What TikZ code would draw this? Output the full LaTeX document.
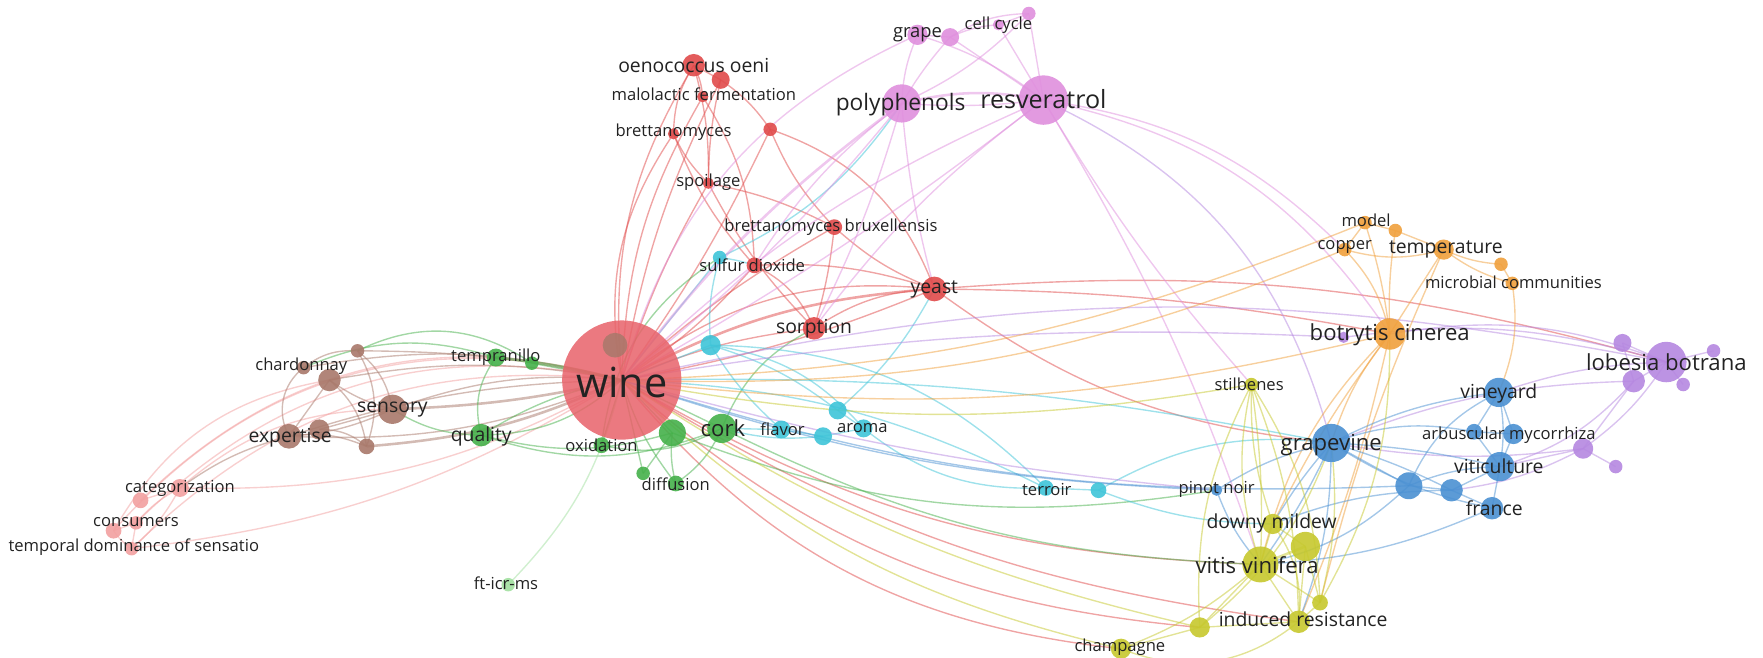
\documentclass[tikz,border=0pt]{standalone}
\usepackage{fontspec}
\setmainfont{Open Sans}
\usepackage{tikz}

\definecolor{cred}{HTML}{E04A4A}
\definecolor{cwine}{HTML}{E8626A}
\definecolor{cgreen}{HTML}{45B04A}
\definecolor{cblue}{HTML}{4A90D2}
\definecolor{cyell}{HTML}{C6C82E}
\definecolor{cpurp}{HTML}{B587E0}
\definecolor{ccyan}{HTML}{3EC4D8}
\definecolor{corng}{HTML}{F0A03C}
\definecolor{cbrown}{HTML}{A8786A}
\definecolor{cpink}{HTML}{DF8FDD}
\definecolor{csalm}{HTML}{F2A0A0}
\definecolor{clgreen}{HTML}{A2E0A0}
\definecolor{ctext}{HTML}{222222}

\tikzset{
  edge/.style={line width=0.7pt, draw opacity=0.5},
  wide/.style={line width=1.3pt},
  ered/.style={edge, draw=cred},
  esalm/.style={edge, draw=csalm},
  ebrown/.style={edge, draw=cbrown},
  egreen/.style={edge, draw=cgreen},
  elgreen/.style={edge, draw=clgreen},
  ecyan/.style={edge, draw=ccyan},
  epink/.style={edge, draw=cpink},
  epurp/.style={edge, draw=cpurp},
  eorng/.style={edge, draw=corng},
  eblue/.style={edge, draw=cblue},
  eyell/.style={edge, draw=cyell},
  lab/.style={text=ctext, inner sep=0pt, font=\fontsize{8.4}{10}\selectfont},
  labm/.style={lab, font=\fontsize{9.8}{11}\selectfont},
  labb/.style={lab, font=\fontsize{11.2}{13}\selectfont},
}

\begin{document}
\begin{tikzpicture}[x=0.02cm, y=-0.02cm]
    \useasboundingbox (0,0) rectangle (1568,585);
    % keyword positions
    \coordinate (wine) at (553,338);
    \coordinate (wineb) at (547,307);
    \coordinate (oeni) at (617,58);
    \coordinate (oenib) at (641,71);
    \coordinate (malo) at (625,86);
    \coordinate (redq) at (685,115);
    \coordinate (brett) at (599,119);
    \coordinate (spoil) at (630,163);
    \coordinate (brux) at (742,202);
    \coordinate (sulfur) at (671,236);
    \coordinate (yeast) at (831,257);
    \coordinate (sorp) at (724,292);
    \coordinate (grape) at (816,31);
    \coordinate (grapeb) at (845,33);
    \coordinate (cellc) at (888,22);
    \coordinate (cellb) at (915,12);
    \coordinate (poly) at (802,92);
    \coordinate (resv) at (928,89);
    \coordinate (cyanA) at (640,229);
    \coordinate (cyanB) at (632,307);
    \coordinate (flavor) at (695,382);
    \coordinate (cyanC) at (732,388);
    \coordinate (cyanD) at (745,365);
    \coordinate (aroma) at (768,381);
    \coordinate (terroir) at (930,434);
    \coordinate (cyanE) at (977,436);
    \coordinate (tempr) at (441,318);
    \coordinate (temprb) at (473,323);
    \coordinate (quality) at (428,387);
    \coordinate (cork) at (642,381);
    \coordinate (greenB) at (598,385);
    \coordinate (oxid) at (535,396);
    \coordinate (diffa) at (572,421);
    \coordinate (diff) at (601,430);
    \coordinate (fticr) at (452,520);
    \coordinate (chard) at (270,327);
    \coordinate (brownA) at (293,338);
    \coordinate (brownB) at (318,312);
    \coordinate (sensory) at (349,364);
    \coordinate (expert) at (257,388);
    \coordinate (brownC) at (284,382);
    \coordinate (brownD) at (326,397);
    \coordinate (categ) at (160,434);
    \coordinate (salmA) at (125,445);
    \coordinate (consum) at (121,465);
    \coordinate (salmB) at (101,472);
    \coordinate (tds) at (117,488);
    \coordinate (model) at (1214,198);
    \coordinate (orngA) at (1241,205);
    \coordinate (copper) at (1196,222);
    \coordinate (temp) at (1284,222);
    \coordinate (orngB) at (1335,235);
    \coordinate (micro) at (1345,252);
    \coordinate (botry) at (1236,297);
    \coordinate (purpS) at (1195,300);
    \coordinate (lobes) at (1482,322);
    \coordinate (purpA) at (1443,305);
    \coordinate (purpB) at (1524,312);
    \coordinate (purpC) at (1453,339);
    \coordinate (purpD) at (1497,342);
    \coordinate (purpE) at (1408,399);
    \coordinate (purpF) at (1437,415);
    \coordinate (grapev) at (1184,394);
    \coordinate (vineyd) at (1333,349);
    \coordinate (arbA) at (1311,384);
    \coordinate (arbB) at (1346,386);
    \coordinate (vitic) at (1334,415);
    \coordinate (blueA) at (1253,432);
    \coordinate (blueB) at (1291,436);
    \coordinate (france) at (1327,452);
    \coordinate (pinot) at (1082,436);
    \coordinate (stilb) at (1113,342);
    \coordinate (downy) at (1132,466);
    \coordinate (yellB) at (1161,486);
    \coordinate (vitis) at (1121,502);
    \coordinate (yellC) at (1174,536);
    \coordinate (induc) at (1155,553);
    \coordinate (yellD) at (1067,558);
    \coordinate (champ) at (997,577);

    % links
    \draw[ered] (wine) to[bend left=18] (oeni);
    \draw[ered] (wine) to[bend left=8] (oenib);
    \draw[ered] (wine) to[bend left=14] (malo);
    \draw[ered] (wine) to[bend left=22] (brett);
    \draw[ered] (wine) to[bend left=6] (spoil);
    \draw[ered] (wine) to[bend right=5] (redq);
    \draw[ered] (wine) to[bend left=6] (brux);
    \draw[ered] (wine) to[bend right=8] (sulfur);
    \draw[ered, wide] (wine) to[bend left=12] (yeast);
    \draw[ered] (wine) to[bend left=22] (yeast);
    \draw[ered] (wine) to[bend right=6] (yeast);
    \draw[ered] (wine) to[bend left=8] (sorp);
    \draw[ered] (oeni) to[bend left=10] (malo);
    \draw[ered] (oeni) -- (oenib);
    \draw[ered] (oeni) to[bend right=15] (brett);
    \draw[ered] (oeni) to[bend left=8] (spoil);
    \draw[ered] (oenib) to[bend left=10] (redq);
    \draw[ered] (oenib) to[bend right=6] (spoil);
    \draw[ered] (malo) to[bend left=15] (sulfur);
    \draw[ered] (brett) to[bend right=10] (spoil);
    \draw[ered] (brett) to[bend right=10] (sulfur);
    \draw[ered] (spoil) to[bend left=8] (brux);
    \draw[ered] (spoil) to[bend right=8] (sorp);
    \draw[ered] (redq) to[bend left=25] (yeast);
    \draw[ered] (redq) to[bend right=10] (brux);
    \draw[ered] (brux) to[bend right=10] (yeast);
    \draw[ered] (brux) to[bend left=5] (sorp);
    \draw[ered] (sulfur) to[bend left=20] (sorp);
    \draw[ered] (sulfur) to[bend left=10] (yeast);
    \draw[ered] (sorp) to[bend left=15] (yeast);
    \draw[ered] (yeast) to[bend left=10] (lobes);
    \draw[ered] (yeast) to[bend left=5] (botry);
    \draw[ered] (yeast) to[bend right=15] (grapev);
    \draw[ered] (wine) to[bend right=22] (champ);
    \draw[ered] (wine) to[bend right=18] (yellD);
    \draw[ered] (wine) to[bend right=14] (vitis);
    \draw[ered] (wine) to[bend right=12] (induc);
    \draw[esalm] (categ) to[bend right=15] (wine);
    \draw[esalm] (salmA) to[bend left=30] (wine);
    \draw[esalm] (salmB) to[bend left=32] (wine);
    \draw[esalm] (consum) to[bend left=28] (wine);
    \draw[esalm] (tds) to[bend right=12] (wine);
    \draw[esalm] (tds) to[bend left=25] (wine);
    \draw[esalm] (categ) to[bend left=20] (sensory);
    \draw[esalm] (salmB) to[bend left=25] (brownA);
    \draw[esalm] (salmA) -- (categ);
    \draw[esalm] (salmB) -- (consum);
    \draw[esalm] (tds) -- (consum);
    \draw[esalm] (salmB) to[bend right=10] (tds);
    \draw[esalm] (consum) to[bend left=10] (categ);
    \draw[esalm] (tds) to[bend right=10] (categ);
    \draw[ebrown, wide] (sensory) to[bend right=5] (wine);
    \draw[ebrown] (sensory) to[bend left=12] (wine);
    \draw[ebrown] (expert) to[bend left=8] (wine);
    \draw[ebrown] (expert) to[bend right=12] (wine);
    \draw[ebrown] (brownA) to[bend left=10] (wine);
    \draw[ebrown] (chard) to[bend left=12] (wine);
    \draw[ebrown] (brownB) to[bend left=6] (wine);
    \draw[ebrown, wide] (brownD) to[bend right=10] (wine);
    \draw[ebrown] (expert) to[bend right=10] (sensory);
    \draw[ebrown] (chard) to[bend right=40] (expert);
    \draw[ebrown] (brownA) -- (expert);
    \draw[ebrown] (brownA) to[bend right=10] (sensory);
    \draw[ebrown] (brownB) to[bend left=20] (sensory);
    \draw[ebrown] (brownC) -- (sensory);
    \draw[ebrown] (brownC) to[bend left=20] (brownD);
    \draw[ebrown] (brownA) to[bend left=20] (brownD);
    \draw[ebrown] (chard) to[bend left=20] (brownB);
    \draw[ebrown] (brownB) to[bend left=25] (brownD);
    \draw[ebrown] (expert) to[bend left=15] (brownD);
    \draw[ebrown] (expert) to[bend right=10] (categ);
    \draw[egreen, wide] (tempr) to[bend left=4] (wine);
    \draw[egreen] (temprb) -- (wine);
    \draw[egreen] (tempr) to[bend right=25] (quality);
    \draw[egreen] (tempr) to[bend right=20] (chard);
    \draw[egreen] (temprb) to[bend right=30] (brownB);
    \draw[egreen] (quality) to[bend left=10] (wine);
    \draw[egreen] (quality) to[bend right=20] (cork);
    \draw[egreen] (quality) to[bend right=15] (greenB);
    \draw[egreen] (quality) to[bend left=15] (sensory);
    \draw[egreen] (quality) to[bend right=20] (wine);
    \draw[egreen] (cork) -- (wine);
    \draw[egreen] (greenB) -- (wine);
    \draw[egreen] (cork) to[bend left=20] (oxid);
    \draw[egreen] (cork) to[bend left=15] (diff);
    \draw[egreen] (greenB) to[bend right=10] (diff);
    \draw[egreen] (greenB) -- (diffa);
    \draw[egreen] (oxid) -- (wine);
    \draw[egreen] (diffa) -- (wine);
    \draw[egreen] (diff) to[bend left=10] (wine);
    \draw[egreen] (cork) to[bend left=20] (sorp);
    \draw[egreen] (greenB) to[bend right=15] (pinot);
    \draw[egreen] (cork) to[bend right=12] (vitis);
    \draw[egreen] (oxid) to[bend left=25] (cyanA);
    \draw[elgreen] (fticr) to[bend right=15] (wine);
    \draw[ecyan] (cyanB) -- (wine);
    \draw[ecyan] (cyanA) -- (wine);
    \draw[ecyan] (cyanA) to[bend right=10] (cyanB);
    \draw[ecyan] (cyanA) to[bend right=15] (poly);
    \draw[ecyan] (cyanA) to[bend left=5] (sulfur);
    \draw[ecyan] (cyanB) to[bend right=8] (flavor);
    \draw[ecyan] (cyanB) to[bend left=10] (cyanD);
    \draw[ecyan] (cyanB) to[bend left=20] (aroma);
    \draw[ecyan] (cyanB) to[bend left=22] (terroir);
    \draw[ecyan] (flavor) -- (cyanC);
    \draw[ecyan] (cyanC) -- (aroma);
    \draw[ecyan] (cyanD) -- (aroma);
    \draw[ecyan] (flavor) -- (cork);
    \draw[ecyan] (cyanC) to[bend left=10] (cork);
    \draw[ecyan] (cyanD) to[bend right=10] (yeast);
    \draw[ecyan] (terroir) -- (cyanE);
    \draw[ecyan] (cyanE) to[bend left=18] (grapev);
    \draw[ecyan] (cyanE) to[bend right=10] (downy);
    \draw[ecyan] (wine) to[bend left=12] (terroir);
    \draw[ecyan] (wine) to[bend left=6] (grapev);
    \draw[ecyan] (aroma) to[bend right=20] (terroir);
    \draw[epink, wide] (poly) to[bend right=8] (wine);
    \draw[epink] (poly) to[bend left=6] (wine);
    \draw[epink] (resv) to[bend right=10] (wine);
    \draw[epink] (resv) to[bend left=4] (wine);
    \draw[epink] (grape) to[bend right=25] (wine);
    \draw[epink] (grape) -- (grapeb);
    \draw[epink] (grape) to[bend right=10] (poly);
    \draw[epink] (grape) to[bend left=10] (resv);
    \draw[epink] (grapeb) to[bend right=5] (poly);
    \draw[epink] (grapeb) -- (resv);
    \draw[epink] (grapeb) to[bend left=10] (cellc);
    \draw[epink] (grapeb) to[bend left=15] (cellb);
    \draw[epink] (cellc) -- (resv);
    \draw[epink] (cellb) -- (resv);
    \draw[epink] (cellb) to[bend left=10] (poly);
    \draw[epink] (cellc) -- (cellb);
    \draw[epink, wide] (poly) to[bend left=12] (resv);
    \draw[epink] (poly) to[bend right=5] (resv);
    \draw[epink] (poly) to[bend right=10] (sulfur);
    \draw[epink] (poly) to[bend right=5] (yeast);
    \draw[epink] (poly) to[bend left=5] (sorp);
    \draw[epurp] (resv) to[bend left=25] (grapev);
    \draw[epink] (resv) to[bend left=22] (botry);
    \draw[epink] (resv) to[bend left=18] (copper);
    \draw[epink] (resv) to[bend left=6] (vitis);
    \draw[epink] (resv) to[bend right=5] (stilb);
    \draw[epink] (resv) to[bend right=8] (sorp);
    \draw[epurp] (wine) to[bend left=12] (lobes);
    \draw[epurp] (wine) to[bend left=6] (purpS);
    \draw[epurp] (wine) to[bend right=5] (pinot);
    \draw[epurp] (lobes) -- (purpA);
    \draw[epurp] (lobes) -- (purpB);
    \draw[epurp] (lobes) -- (purpC);
    \draw[epurp] (lobes) -- (purpD);
    \draw[epurp] (botry) to[bend left=15] (lobes);
    \draw[epurp] (purpS) to[bend left=12] (lobes);
    \draw[epurp] (lobes) to[bend right=8] (vineyd);
    \draw[epurp] (purpC) to[bend right=10] (grapev);
    \draw[epurp] (purpE) -- (vitic);
    \draw[epurp] (purpE) to[bend left=8] (grapev);
    \draw[epurp] (purpC) -- (purpE);
    \draw[epurp] (purpE) -- (purpF);
    \draw[epurp] (purpA) -- (purpC);
    \draw[epurp] (lobes) to[bend left=10] (purpE);
    \draw[epurp] (purpC) to[bend left=15] (vitic);
    \draw[epurp] (purpE) to[bend left=10] (blueB);
    \draw[eorng] (botry) to[bend right=15] (copper);
    \draw[eorng] (botry) to[bend right=5] (model);
    \draw[eorng] (botry) to[bend left=5] (orngA);
    \draw[eorng] (botry) -- (temp);
    \draw[eorng] (copper) -- (model);
    \draw[eorng] (model) -- (orngA);
    \draw[eorng] (copper) to[bend right=15] (temp);
    \draw[eorng] (orngA) -- (temp);
    \draw[eorng] (temp) to[bend right=10] (orngB);
    \draw[eorng] (orngB) -- (micro);
    \draw[eorng] (temp) to[bend right=10] (micro);
    \draw[eorng] (micro) to[bend left=15] (vineyd);
    \draw[eorng] (temp) to[bend right=5] (yellC);
    \draw[eorng] (botry) to[bend right=10] (grapev);
    \draw[eorng] (botry) to[bend right=15] (vitis);
    \draw[eorng] (botry) to[bend left=5] (induc);
    \draw[eorng] (botry) to[bend right=5] (downy);
    \draw[eorng] (copper) to[bend left=12] (wine);
    \draw[eorng] (model) to[bend left=10] (wine);
    \draw[eorng] (botry) to[bend left=10] (wine);
    \draw[eblue] (grapev) to[bend left=10] (vineyd);
    \draw[eblue] (grapev) to[bend left=5] (vitic);
    \draw[eblue] (grapev) to[bend left=15] (arbA);
    \draw[eblue] (grapev) -- (blueA);
    \draw[eblue] (grapev) to[bend left=5] (blueB);
    \draw[eblue] (grapev) to[bend right=10] (france);
    \draw[eblue] (vineyd) -- (arbA);
    \draw[eblue] (vineyd) -- (arbB);
    \draw[eblue] (vineyd) to[bend left=10] (vitic);
    \draw[eblue] (arbB) -- (vitic);
    \draw[eblue] (arbA) -- (vitic);
    \draw[eblue] (arbA) -- (arbB);
    \draw[eblue] (vitic) -- (blueB);
    \draw[eblue] (blueA) -- (blueB);
    \draw[eblue] (blueB) -- (france);
    \draw[eblue] (vitic) -- (france);
    \draw[eblue] (blueA) to[bend left=10] (vitic);
    \draw[eblue] (blueA) to[bend left=20] (vineyd);
    \draw[eblue] (grapev) to[bend right=10] (pinot);
    \draw[eblue] (grapev) to[bend right=5] (downy);
    \draw[eblue] (grapev) to[bend left=5] (vitis);
    \draw[eblue] (grapev) to[bend left=10] (induc);
    \draw[eblue] (blueA) to[bend left=15] (vitis);
    \draw[eblue] (blueB) to[bend right=10] (downy);
    \draw[eblue] (france) to[bend left=10] (vitis);
    \draw[eblue] (pinot) to[bend right=10] (vitis);
    \draw[eblue] (pinot) to[bend left=8] (wine);
    \draw[eblue] (blueA) to[bend left=10] (wine);
    \draw[eyell] (vitis) -- (downy);
    \draw[eyell, wide] (vitis) -- (yellB);
    \draw[eyell] (vitis) -- (yellC);
    \draw[eyell] (vitis) -- (induc);
    \draw[eyell] (vitis) -- (yellD);
    \draw[eyell] (vitis) to[bend left=10] (champ);
    \draw[eyell] (vitis) to[bend left=15] (stilb);
    \draw[eyell] (downy) -- (yellB);
    \draw[eyell] (yellB) -- (induc);
    \draw[eyell] (yellB) -- (yellC);
    \draw[eyell] (yellC) -- (induc);
    \draw[eyell] (yellD) -- (induc);
    \draw[eyell] (yellD) -- (champ);
    \draw[eyell] (stilb) to[bend right=10] (downy);
    \draw[eyell] (stilb) to[bend left=10] (induc);
    \draw[eyell] (stilb) to[bend left=15] (yellC);
    \draw[eyell] (stilb) to[bend right=15] (yellD);
    \draw[eyell] (stilb) to[bend left=5] (vitis);
    \draw[eyell] (yellD) to[bend right=15] (grapev);
    \draw[eyell] (yellC) to[bend right=10] (grapev);
    \draw[eyell] (induc) to[bend right=20] (downy);
    \draw[eyell] (champ) to[bend left=15] (wine);
    \draw[eyell] (yellD) to[bend left=10] (wine);
    \draw[eyell] (stilb) to[bend left=10] (wine);
    \draw[eyell] (champ) to[bend right=30] (induc);
    \draw[eyell] (yellC) to[bend right=15] (botry);

    % circles
    \fill[cwine, fill opacity=0.85] (wine) circle (53);
    \fill[cbrown, fill opacity=0.85] (wineb) circle (11);
    \fill[cred, fill opacity=0.9] (oeni) circle (10);
    \fill[cred, fill opacity=0.9] (oenib) circle (8);
    \fill[cred, fill opacity=0.9] (malo) circle (5);
    \fill[cred, fill opacity=0.9] (redq) circle (6);
    \fill[cred, fill opacity=0.9] (brett) circle (5);
    \fill[cred, fill opacity=0.9] (spoil) circle (5);
    \fill[cred, fill opacity=0.9] (brux) circle (7);
    \fill[cred, fill opacity=0.9] (sulfur) circle (7);
    \fill[cred, fill opacity=0.9] (yeast) circle (11);
    \fill[cred, fill opacity=0.9] (sorp) circle (10);
    \fill[cpink, fill opacity=0.9] (grape) circle (9);
    \fill[cpink, fill opacity=0.9] (grapeb) circle (8);
    \fill[cpink, fill opacity=0.9] (cellc) circle (5);
    \fill[cpink, fill opacity=0.9] (cellb) circle (6);
    \fill[cpink, fill opacity=0.9] (poly) circle (17);
    \fill[cpink, fill opacity=0.9] (resv) circle (22);
    \fill[ccyan, fill opacity=0.9] (cyanA) circle (6);
    \fill[ccyan, fill opacity=0.9] (cyanB) circle (9);
    \fill[ccyan, fill opacity=0.9] (flavor) circle (8);
    \fill[ccyan, fill opacity=0.9] (cyanC) circle (8);
    \fill[ccyan, fill opacity=0.9] (cyanD) circle (8);
    \fill[ccyan, fill opacity=0.9] (aroma) circle (8);
    \fill[ccyan, fill opacity=0.9] (terroir) circle (7);
    \fill[ccyan, fill opacity=0.9] (cyanE) circle (7);
    \fill[cgreen, fill opacity=0.9] (tempr) circle (8);
    \fill[cgreen, fill opacity=0.9] (temprb) circle (6);
    \fill[cgreen, fill opacity=0.9] (quality) circle (10);
    \fill[cgreen, fill opacity=0.9] (cork) circle (13);
    \fill[cgreen, fill opacity=0.9] (greenB) circle (12);
    \fill[cgreen, fill opacity=0.9] (oxid) circle (7);
    \fill[cgreen, fill opacity=0.9] (diffa) circle (6);
    \fill[cgreen, fill opacity=0.9] (diff) circle (7);
    \fill[clgreen, fill opacity=0.9] (fticr) circle (6);
    \fill[cbrown, fill opacity=0.9] (chard) circle (6);
    \fill[cbrown, fill opacity=0.9] (brownA) circle (10);
    \fill[cbrown, fill opacity=0.9] (brownB) circle (6);
    \fill[cbrown, fill opacity=0.9] (sensory) circle (13);
    \fill[cbrown, fill opacity=0.9] (expert) circle (11);
    \fill[cbrown, fill opacity=0.9] (brownC) circle (9);
    \fill[cbrown, fill opacity=0.9] (brownD) circle (7);
    \fill[csalm, fill opacity=0.9] (categ) circle (8);
    \fill[csalm, fill opacity=0.9] (salmA) circle (7);
    \fill[csalm, fill opacity=0.9] (consum) circle (6);
    \fill[csalm, fill opacity=0.9] (salmB) circle (7);
    \fill[csalm, fill opacity=0.9] (tds) circle (6);
    \fill[corng, fill opacity=0.9] (model) circle (6);
    \fill[corng, fill opacity=0.9] (orngA) circle (6);
    \fill[corng, fill opacity=0.9] (copper) circle (6);
    \fill[corng, fill opacity=0.9] (temp) circle (9);
    \fill[corng, fill opacity=0.9] (orngB) circle (6);
    \fill[corng, fill opacity=0.9] (micro) circle (6);
    \fill[corng, fill opacity=0.9] (botry) circle (14);
    \fill[cpurp, fill opacity=0.9] (purpS) circle (5);
    \fill[cpurp, fill opacity=0.9] (lobes) circle (18);
    \fill[cpurp, fill opacity=0.9] (purpA) circle (8);
    \fill[cpurp, fill opacity=0.9] (purpB) circle (6);
    \fill[cpurp, fill opacity=0.9] (purpC) circle (10);
    \fill[cpurp, fill opacity=0.9] (purpD) circle (6);
    \fill[cpurp, fill opacity=0.9] (purpE) circle (9);
    \fill[cpurp, fill opacity=0.9] (purpF) circle (6);
    \fill[cblue, fill opacity=0.9] (grapev) circle (17);
    \fill[cblue, fill opacity=0.9] (vineyd) circle (13);
    \fill[cblue, fill opacity=0.9] (arbA) circle (7);
    \fill[cblue, fill opacity=0.9] (arbB) circle (9);
    \fill[cblue, fill opacity=0.9] (vitic) circle (13);
    \fill[cblue, fill opacity=0.9] (blueA) circle (12);
    \fill[cblue, fill opacity=0.9] (blueB) circle (10);
    \fill[cblue, fill opacity=0.9] (france) circle (10);
    \fill[cblue, fill opacity=0.9] (pinot) circle (5);
    \fill[cyell, fill opacity=0.9] (stilb) circle (6);
    \fill[cyell, fill opacity=0.9] (downy) circle (9);
    \fill[cyell, fill opacity=0.9] (yellB) circle (13);
    \fill[cyell, fill opacity=0.9] (vitis) circle (16);
    \fill[cyell, fill opacity=0.9] (yellC) circle (7);
    \fill[cyell, fill opacity=0.9] (induc) circle (10);
    \fill[cyell, fill opacity=0.9] (yellD) circle (9);
    \fill[cyell, fill opacity=0.9] (champ) circle (9);

    % labels
    \node[lab, font=\fontsize{21}{24}\selectfont] (tWine) at (553,340) {wine};
    \node[labm] (tOeni) at (617,58) {oenococcus oeni};
    \node[lab] (tMalo) at (626,84) {malolactic fermentation};
    \node[lab] (tBrett) at (599,118) {brettanomyces};
    \node[lab] (tSpoil) at (630,162) {spoilage};
    \node[lab] (tBrux) at (739,202) {brettanomyces bruxellensis};
    \node[lab] (tSulfur) at (669,236) {sulfur dioxide};
    \node[labm] (tYeast) at (831,257) {yeast};
    \node[labm] (tSorp) at (724,292) {sorption};
    \node[lab, font=\fontsize{9.3}{11}\selectfont] (tGrape) at (816,31) {grape};
    \node[lab] (tCell) at (888,22) {cell cycle};
    \node[lab, font=\fontsize{11.5}{13}\selectfont] (tPoly) at (801,93) {polyphenols};
    \node[lab, font=\fontsize{12.7}{14}\selectfont] (tResv) at (928,88) {resveratrol};
    \node[lab] (tTempr) at (441,318) {tempranillo};
    \node[labm] (tQual) at (428,388) {quality};
    \node[labb] (tCork) at (643,381) {cork};
    \node[lab] (tOxid) at (535,396) {oxidation};
    \node[lab] (tDiff) at (601,431) {diffusion};
    \node[lab] (tFlav) at (696,382) {flavor};
    \node[lab] (tAroma) at (767,381) {aroma};
    \node[lab] (tTerr) at (931,435) {terroir};
    \node[lab] (tFtic) at (450,519) {ft-icr-ms};
    \node[lab] (tChard) at (268,326) {chardonnay};
    \node[labm] (tSens) at (349,364) {sensory};
    \node[labm] (tExp) at (258,389) {expertise};
    \node[lab] (tCateg) at (160,434) {categorization};
    \node[lab] (tCons) at (121,464) {consumers};
    \node[lab] (tTds) at (119,487) {temporal dominance of sensatio};
    \node[lab] (tModel) at (1215,196) {model};
    \node[lab] (tCopper) at (1196,220) {copper};
    \node[labm] (tTemp) at (1286,222) {temperature};
    \node[lab] (tMicro) at (1346,251) {microbial communities};
    \node[labb] (tBotry) at (1236,298) {botrytis cinerea};
    \node[labb] (tLobes) at (1482,322) {lobesia botrana};
    \node[labm] (tVine) at (1333,350) {vineyard};
    \node[lab] (tArb) at (1342,387) {arbuscular mycorrhiza};
    \node[labm] (tVitic) at (1333,415) {viticulture};
    \node[labm] (tFrance) at (1329,452) {france};
    \node[labb] (tGrapev) at (1184,396) {grapevine};
    \node[lab] (tPinot) at (1082,435) {pinot noir};
    \node[lab] (tStilb) at (1111,342) {stilbenes};
    \node[labm] (tDowny) at (1131,466) {downy mildew};
    \node[labb] (tVitis) at (1118,503) {vitis vinifera};
    \node[labm] (tInduc) at (1159,551) {induced resistance};
    \node[lab] (tChamp) at (996,576) {champagne};
\end{tikzpicture}
\end{document}
